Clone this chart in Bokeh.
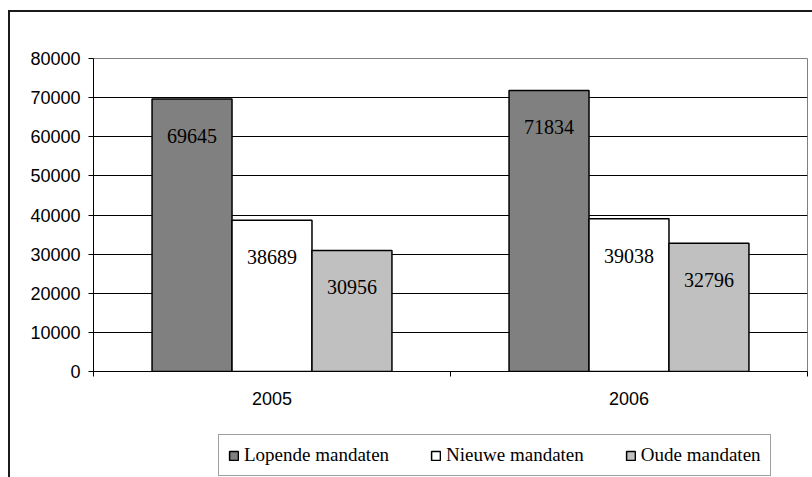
from bokeh.plotting import figure
from bokeh.layouts import column
from bokeh.models import Range1d, FixedTicker, Legend, LegendItem, ColumnDataSource
from bokeh.core.properties import value
from bokeh.embed import file_html
from bokeh.resources import INLINE

years = ["2005", "2006"]
series = ["Lopende mandaten", "Nieuwe mandaten", "Oude mandaten"]
lopende = [69645, 71834]
nieuwe = [38689, 39038]
oude = [30956, 32796]
colors = ["#808080", "#ffffff", "#c0c0c0"]
y_ticks = [0, 10000, 20000, 30000, 40000, 50000, 60000, 70000, 80000]

p = figure(width=812, height=420, output_backend="svg", toolbar_location=None,
           x_range=Range1d(0, len(years)), y_range=Range1d(0, 80000),
           min_border_left=93, min_border_right=5, min_border_top=58, min_border_bottom=49)
p.outline_line_color = "#808080"
p.outline_line_width = 1
p.background_fill_color = "white"
p.border_fill_color = None

bar_w = 0.224
offsets = [-bar_w, 0.0, bar_w]
for vals, off, col in zip([lopende, nieuwe, oude], offsets, colors):
    xs = [i + 0.5 + off for i in range(len(years))]
    src = ColumnDataSource(dict(x=xs, top=vals, lab=[str(v) for v in vals]))
    p.vbar(x="x", top="top", bottom=0, width=bar_w, source=src,
           fill_color=col, line_color="black", line_width=1.5)
    p.text(x="x", y="top", text="lab", source=src, y_offset=37,
           text_align="center", text_baseline="middle",
           text_font=value("Liberation Serif"), text_font_size="20px", text_color="black")

# y axis
p.yaxis.ticker = FixedTicker(ticks=y_ticks)
p.yaxis.major_label_text_font = "Liberation Sans"
p.yaxis.major_label_text_font_size = "18px"
p.yaxis.major_label_text_color = "black"
p.yaxis.major_tick_out = 5
p.yaxis.major_tick_in = 0
p.yaxis.minor_tick_line_color = None
p.yaxis.major_label_standoff = 8
p.yaxis.axis_line_color = "black"
p.yaxis.major_tick_line_color = "black"

# x axis: labels at category centres, ticks at category boundaries
p.xaxis.ticker = FixedTicker(ticks=[i + 0.5 for i in range(len(years))],
                             minor_ticks=list(range(len(years) + 1)))
p.xaxis.major_label_overrides = {i + 0.5: y for i, y in enumerate(years)}
p.xaxis.major_tick_line_color = None
p.xaxis.major_tick_out = 0
p.xaxis.major_tick_in = 0
p.xaxis.minor_tick_out = 5
p.xaxis.minor_tick_in = 0
p.xaxis.minor_tick_line_color = "black"
p.xaxis.major_label_standoff = 15
p.xaxis.major_label_text_font = "Liberation Sans"
p.xaxis.major_label_text_font_size = "18px"
p.xaxis.major_label_text_color = "black"
p.xaxis.axis_line_color = "black"

p.xgrid.grid_line_color = None
p.ygrid.ticker = FixedTicker(ticks=y_ticks[:-1])
p.ygrid.grid_line_color = "black"
p.ygrid.grid_line_width = 1

# legend strip (its frame is aligned with the chart's frame by the column layout)
q = figure(width=812, height=57, output_backend="svg", toolbar_location=None,
           x_range=Range1d(0, 1), y_range=Range1d(0, 1),
           x_axis_location=None, y_axis_location=None,
           min_border_left=0, min_border_right=0, min_border_top=0, min_border_bottom=0)
q.grid.visible = False
q.outline_line_color = None
q.background_fill_color = None
q.border_fill_color = None
legend_renderers = []
for col in colors:
    src = ColumnDataSource(dict(x=[float("nan")], top=[float("nan")]))
    r = q.vbar(x="x", top="top", width=0.1, source=src,
               fill_color=col, line_color="black", line_width=1.5)
    legend_renderers.append(r)

legend = Legend(items=[LegendItem(label=n, renderers=[r]) for n, r in zip(series, legend_renderers)],
                orientation="horizontal", location=(125, 1),
                label_text_font="Liberation Serif", label_text_font_size="19px",
                label_text_color="black", glyph_width=11, glyph_height=11,
                label_standoff=5, spacing=41, padding=9, label_height=20,
                border_line_color="#404040", border_line_width=1.5,
                background_fill_color="white", background_fill_alpha=1.0, margin=0)
q.add_layout(legend, "center")

layout = column(p, q, spacing=0)
layout.styles = {
    "background": "linear-gradient(#1a1a1a, #1a1a1a) 8px 10px / 2px calc(100% - 10px) no-repeat, "
                  "linear-gradient(#1a1a1a, #1a1a1a) 8px 10px / calc(100% - 8px) 2px no-repeat, white"
}

open("out.html", "w").write(file_html(layout, INLINE))
